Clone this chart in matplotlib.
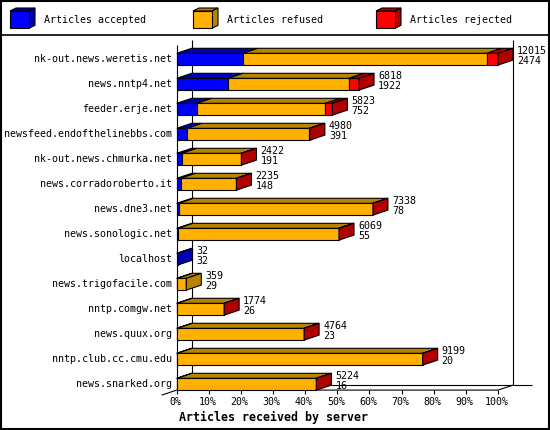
import numpy as np
import matplotlib
matplotlib.use("Agg")
import matplotlib.pyplot as plt
from matplotlib.patches import Polygon, Rectangle
from matplotlib.lines import Line2D

# ---------------- data ----------------
hosts = [
    "nk-out.news.weretis.net", "news.nntp4.net", "feeder.erje.net",
    "newsfeed.endofthelinebbs.com", "nk-out.news.chmurka.net",
    "news.corradoroberto.it", "news.dne3.net", "news.sonologic.net",
    "localhost", "news.trigofacile.com", "nntp.comgw.net",
    "news.quux.org", "nntp.club.cc.cmu.edu", "news.snarked.org",
]
accepted = [2474, 1922, 752, 391, 191, 148, 78, 55, 32, 29, 26, 23, 20, 16]
refused = [9121, 4522, 4809, 4574, 2221, 2077, 7250, 6004, 0, 330, 1743, 4736, 9174, 5203]
rejected = [420, 374, 262, 15, 10, 10, 10, 10, 0, 0, 5, 5, 5, 5]
series_names = ["Articles accepted", "Articles refused", "Articles rejected"]
x_ticks = [0, 10, 20, 30, 40, 50, 60, 70, 80, 90, 100]
x_tick_labels = [f"{t}%" for t in x_ticks]
x_label = "Articles received by server"

# ---------------- style ----------------
FRONT = ["#0000ff", "#ffb000", "#ff0000"]
DARK = ["#0000b0", "#b88400", "#b00000"]
FONT = "DejaVu Sans Mono"
FS = 7.2
LW = 0.8

W, H = 550, 430
X0_PX = 176.7        # pixel of 0 %
PX_PER_PCT = 3.213   # pixels per percent
ROW0_PX = 59.2       # pixel center of first row
ROW_PX = 25.0        # pixel spacing between rows
DEPTH_X_PX, DEPTH_Y_PX = 15.0, 5.0
BAR_H_PX = 11.8

fig = plt.figure(figsize=(W / 100, H / 100), dpi=100)
fig.patch.set_facecolor("white")
ax = fig.add_axes([0, 0, 1, 1])
ax.set_xlim(-X0_PX / PX_PER_PCT, (W - X0_PX) / PX_PER_PCT)
ax.set_ylim((H - ROW0_PX) / ROW_PX, -ROW0_PX / ROW_PX)
ax.axis("off")

px_x = 1.0 / PX_PER_PCT
px_y = 1.0 / ROW_PX
dx = DEPTH_X_PX * px_x
dy = DEPTH_Y_PX * px_y
h = BAR_H_PX * px_y

n = len(hosts)
rows = np.arange(n)
series = [np.array(accepted, float), np.array(refused, float), np.array(rejected, float)]
totals = series[0] + series[1] + series[2]
vmax = totals.max()
pct = [s / vmax * 100 for s in series]

floor = (n - 1) + h / 2
axis_top = -h / 2 - dy - 3 * px_y

# back wall / floor lines
line_kw = dict(color="black", lw=LW, zorder=1, solid_capstyle="butt")
ax.add_line(Line2D([dx, dx], [axis_top - dy, floor - dy], **line_kw))
ax.add_line(Line2D([100 + dx, 100 + dx], [axis_top - dy, floor - dy], **line_kw))
ax.add_line(Line2D([dx, 100 + dx + 19 * px_x], [floor - dy, floor - dy], **line_kw))
# front axes
ax.add_line(Line2D([0, 0], [axis_top, floor], **line_kw))
ax.add_line(Line2D([-dx, 0, 100, 100 + dx], [floor + dy, floor, floor, floor - dy], **line_kw))
for t, lab in zip(x_ticks, x_tick_labels):
    ax.add_line(Line2D([t, t], [floor, floor + 4 * px_y], **line_kw))
    ax.text(t - 1.5 * px_x, floor + 11.5 * px_y, lab, ha="center", va="center",
            fontsize=FS, family=FONT)
ax.text(0 + 2 * px_x, floor + 27 * px_y, x_label, ha="left", va="center",
        fontsize=8.4, family=FONT, fontweight="bold")

# bars
left = np.zeros(n)
for k in range(3):
    ax.barh(rows, pct[k], left=left, height=h, color=FRONT[k], edgecolor="black",
            lw=LW, zorder=3)
    for i in range(n):
        w = pct[k][i]
        if w <= 0:
            continue
        x0, x1 = left[i], left[i] + w
        yt = rows[i] - h / 2
        ax.add_patch(Polygon([(x0, yt), (x1, yt), (x1 + dx, yt - dy), (x0 + dx, yt - dy)],
                             closed=True, facecolor=DARK[k], edgecolor="black",
                             lw=LW, zorder=3))
    left = left + pct[k]

for i in range(n):
    last = max(k for k in range(3) if series[k][i] > 0)
    xe = left[i]
    yt, yb = rows[i] - h / 2, rows[i] + h / 2
    ax.add_patch(Polygon([(xe, yt), (xe + dx, yt - dy), (xe + dx, yb - dy), (xe, yb)],
                         closed=True, facecolor=DARK[last], edgecolor="black",
                         lw=LW, zorder=3))
    xl = xe + 19 * px_x
    ax.text(xl, rows[i] - 8.5 * px_y, f"{int(totals[i])}", ha="left", va="center",
            fontsize=FS, family=FONT, zorder=4)
    ax.text(xl, rows[i] + 2 * px_y, f"{accepted[i]}", ha="left", va="center",
            fontsize=FS, family=FONT, zorder=4)
    ax.text(-4.7 * px_x, rows[i], hosts[i], ha="right", va="center",
            fontsize=FS, family=FONT)

# ---------------- legend & frame (pixel overlay) ----------------
lay = fig.add_axes([0, 0, 1, 1], facecolor="none")
lay.set_xlim(0, W)
lay.set_ylim(H, 0)
lay.axis("off")
for k, (bx, name) in enumerate(zip([10, 193, 376], series_names)):
    x0, x1, y0, y1 = bx, bx + 19, 11, 28.3
    ddx, ddy = 6, 3
    lay.add_patch(Polygon([(x0, y0), (x1, y0), (x1 + ddx, y0 - ddy), (x0 + ddx, y0 - ddy)],
                          closed=True, facecolor=DARK[k], edgecolor="black", lw=LW))
    lay.add_patch(Polygon([(x1, y0), (x1 + ddx, y0 - ddy), (x1 + ddx, y1 - ddy), (x1, y1)],
                          closed=True, facecolor=DARK[k], edgecolor="black", lw=LW))
    lay.add_patch(Rectangle((x0, y0), x1 - x0, y1 - y0, facecolor=FRONT[k],
                            edgecolor="black", lw=LW))
    lay.text(bx + 34.3, 20, name, ha="left", va="center", fontsize=FS, family=FONT)

lay.add_line(Line2D([0, W], [34.5, 34.5], color="black", lw=1.2))
lay.add_patch(Rectangle((0.75, 0.75), W - 1.5, H - 1.5, facecolor="none",
                        edgecolor="black", lw=1.5))

fig.savefig("out.png", dpi=100, facecolor="white")
